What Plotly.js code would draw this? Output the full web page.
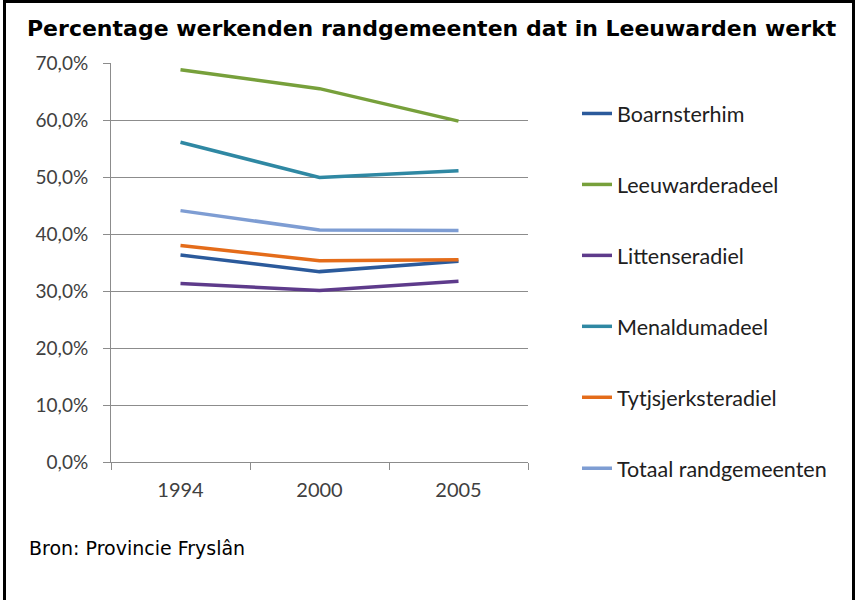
<!DOCTYPE html>
<html>
<head>
<meta charset="utf-8">
<script src="https://cdn.plot.ly/plotly-3.0.1.min.js"></script>
<style>
html,body{margin:0;padding:0;background:#fff;}
#chart{width:856px;height:600px;}
</style>
</head>
<body>
<div id="chart"></div>
<script>
const years = ['1994', '2000', '2005'];
const seriesNames = ['Boarnsterhim', 'Leeuwarderadeel', 'Littenseradiel', 'Menaldumadeel', 'Tytjsjerksteradiel', 'Totaal randgemeenten'];
const boarnsterhim = [36.3, 33.4, 35.2];
const leeuwarderadeel = [68.8, 65.5, 59.8];
const littenseradiel = [31.3, 30.1, 31.7];
const menaldumadeel = [56.1, 49.9, 51.1];
const tytjsjerksteradiel = [38.0, 35.3, 35.5];
const totaal = [44.1, 40.7, 40.6];
const yTicks = [0, 10, 20, 30, 40, 50, 60, 70];
const yTickLabels = ['0,0%', '10,0%', '20,0%', '30,0%', '40,0%', '50,0%', '60,0%', '70,0%'];
const colors = ['#2B5A9B', '#77A03B', '#5E3B8B', '#2F88A3', '#E46C1A', '#7E9DD3'];

const values = [boarnsterhim, leeuwarderadeel, littenseradiel, menaldumadeel, tytjsjerksteradiel, totaal];
const traces = values.map((v, i) => ({
  type: 'scatter', mode: 'lines', x: years, y: v, name: seriesNames[i],
  legendgroup: 'g' + i,
  line: {color: colors[i], width: 3.5}
}));

const W = 856, H = 600, L = 111, R = 528, T = 63, B = 462;
const px = x => (x - L) / (R - L);
const py = y => (B - y) / (B - T);

const layout = {
  width: W, height: H,
  margin: {l: L, r: W - R, t: T, b: H - B},
  paper_bgcolor: '#fff', plot_bgcolor: '#fff',
  showlegend: true,
  font: {family: 'Lato, sans-serif', color: '#404040'},
  title: {
    text: 'Percentage werkenden randgemeenten dat in Leeuwarden werkt',
    font: {family: 'DejaVu Sans', size: 22, color: '#000', weight: 'bold'},
    xref: 'container', x: 27 / W, xanchor: 'left',
    yref: 'container', y: 1 - 28 / H, yanchor: 'middle'
  },
  xaxis: {
    type: 'category', range: [-0.5, 2.5], fixedrange: true,
    showline: true, linecolor: '#8c8c8c', linewidth: 1,
    ticks: 'outside', tickson: 'boundaries', ticklen: 7, tickcolor: '#8c8c8c',
    showgrid: false, zeroline: false,
    tickfont: {family: 'Lato', size: 20, color: '#404040'},
    ticklabelstandoff: 10
  },
  yaxis: {
    range: [0, 70], tickmode: 'array', tickvals: yTicks, ticktext: yTickLabels,
    showline: true, linecolor: '#8c8c8c', linewidth: 1,
    ticks: 'outside', ticklen: 7, tickcolor: '#8c8c8c',
    showgrid: true, gridcolor: '#8c8c8c', gridwidth: 1, zeroline: false,
    tickfont: {family: 'Lato', size: 19, color: '#404040'},
    ticklabelstandoff: 11
  },
  legend: {
    x: px(577), xanchor: 'left', y: py(93), yanchor: 'top',
    font: {family: 'Lato', size: 21.5, color: '#202020'},
    tracegroupgap: 40, bgcolor: 'rgba(0,0,0,0)', itemwidth: 30,
    maxheight: 1
  },
  annotations: [{
    text: 'Bron: Provincie Fryslân', xref: 'paper', yref: 'paper',
    x: px(27), y: py(548), xanchor: 'left', yanchor: 'middle', showarrow: false,
    font: {family: 'DejaVu Sans', size: 19, color: '#000'}
  }],
  shapes: [{
    type: 'path', xref: 'paper', yref: 'paper',
    path: 'M ' + px(4.5) + ' ' + py(620) + ' L ' + px(4.5) + ' ' + py(1.5) + ' L ' + px(853.5) + ' ' + py(1.5) + ' L ' + px(853.5) + ' ' + py(620),
    line: {color: '#000', width: 3}
  }]
};

Plotly.newPlot('chart', traces, layout, {displayModeBar: false, staticPlot: true});
</script>
</body>
</html>
